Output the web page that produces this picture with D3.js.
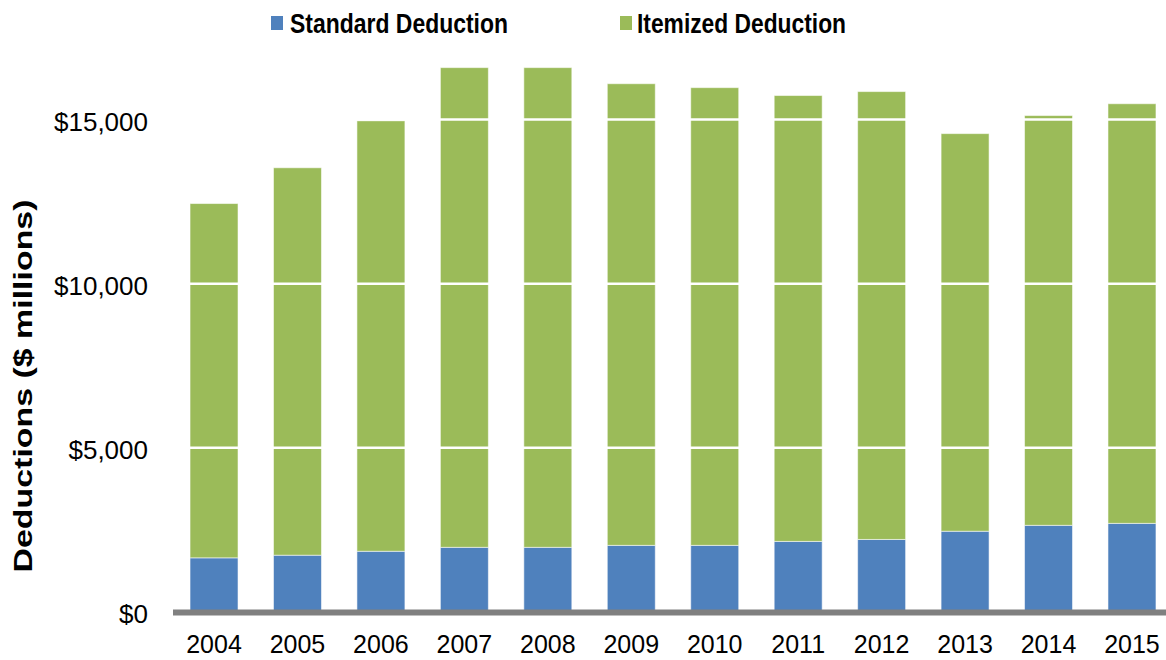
<!DOCTYPE html>
<html>
<head>
<meta charset="utf-8">
<script src="https://cdn.jsdelivr.net/npm/d3@7"></script>
<style>
  html, body { margin: 0; padding: 0; background: #fff; }
  svg { display: block; }
  text { font-family: "Liberation Sans", Arial, sans-serif; }
</style>
</head>
<body>
<svg id="chart" width="1166" height="660"></svg>
<script>
const years = ["2004","2005","2006","2007","2008","2009","2010","2011","2012","2013","2014","2015"];
const standardDeduction = [1650, 1730, 1850, 1970, 1970, 2030, 2030, 2150, 2210, 2460, 2640, 2700];
const itemizedDeduction = [10790, 11800, 13110, 14610, 14610, 14060, 13940, 13580, 13640, 12110, 12480, 12780];
const yTicks = [0, 5000, 10000, 15000];
const seriesNames = ["Standard Deduction", "Itemized Deduction"];
const seriesColors = ["#4F81BD", "#9BBB59"];

const svg = d3.select("#chart");

const x = d3.scaleBand().domain(years).range([172.3, 1173.7]).paddingInner(0.425).paddingOuter(0.2125);
const y = d3.scaleLinear().domain([0, 18000]).range([612, 21]);

const rows = years.map((yr, i) => ({ year: yr, standard: standardDeduction[i], itemized: itemizedDeduction[i] }));
const stack = d3.stack().keys(["standard", "itemized"]);
const series = stack(rows);

// Bars
const g = svg.append("g");
g.selectAll("g.series").data(series).join("g")
  .attr("class", "series")
  .attr("fill", (d, i) => seriesColors[i])
  .selectAll("rect").data(d => d).join("rect")
  .attr("x", d => x(d.data.year))
  .attr("width", x.bandwidth())
  .attr("y", d => y(d[1]))
  .attr("height", d => y(d[0]) - y(d[1]))
  .attr("stroke", "rgba(255,255,255,0.55)")
  .attr("stroke-width", 1);

// Gridlines (white, over bars)
svg.append("g").selectAll("line").data(yTicks.filter(t => t > 0)).join("line")
  .attr("x1", 173).attr("x2", 1166)
  .attr("y1", d => y(d)).attr("y2", d => y(d))
  .attr("stroke", "#fff").attr("stroke-width", 2.5);

// X axis line
svg.append("line")
  .attr("x1", 173).attr("x2", 1166)
  .attr("y1", y(0) + 0.5).attr("y2", y(0) + 0.5)
  .attr("stroke", "#808080").attr("stroke-width", 6);

// Y tick labels
svg.append("g").selectAll("text").data(yTicks).join("text")
  .attr("x", 148)
  .attr("y", d => y(d) + 11)
  .attr("text-anchor", "end")
  .attr("font-size", 26)
  .attr("fill", "#000")
  .text(d => "$" + d3.format(",")(d));

// X tick labels
svg.append("g").selectAll("text").data(years).join("text")
  .attr("x", d => x(d) + x.bandwidth() / 2)
  .attr("y", 653)
  .attr("text-anchor", "middle")
  .attr("font-size", 25)
  .attr("fill", "#000")
  .text(d => d);

// Y axis title
svg.append("text")
  .attr("transform", "translate(32,386) rotate(-90)")
  .attr("text-anchor", "middle")
  .attr("font-size", 26)
  .attr("font-weight", "bold")
  .attr("textLength", 373)
  .attr("lengthAdjust", "spacingAndGlyphs")
  .text("Deductions ($ millions)");

// Legend
const legendItems = [
  { name: seriesNames[0], color: seriesColors[0], sx: 271, tx: 290, tw: 218 },
  { name: seriesNames[1], color: seriesColors[1], sx: 620, tx: 637, tw: 209 }
];
const lg = svg.append("g");
legendItems.forEach(it => {
  lg.append("rect").attr("x", it.sx).attr("y", 16).attr("width", 12).attr("height", 14).attr("fill", it.color);
  lg.append("text").attr("x", it.tx).attr("y", 33)
    .attr("font-size", 27.5).attr("font-weight", "bold")
    .attr("textLength", it.tw).attr("lengthAdjust", "spacingAndGlyphs")
    .text(it.name);
});
</script>
</body>
</html>
